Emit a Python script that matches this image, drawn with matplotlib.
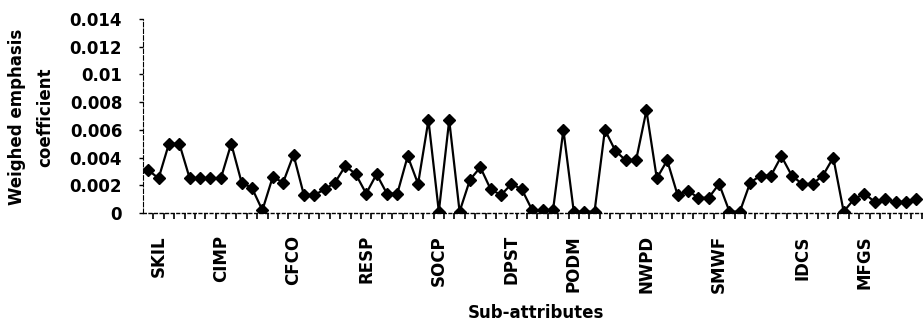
import matplotlib
matplotlib.use("Agg")
import matplotlib.pyplot as plt
from matplotlib.ticker import FixedLocator, FixedFormatter

# Weighed emphasis coefficient of each sub-attribute, in order
coefficients = [
    0.0031, 0.0025, 0.0050, 0.0050, 0.0025, 0.0025, 0.0025, 0.0025, 0.0050, 0.0022,
    0.0018, 0.0002, 0.0026, 0.0022, 0.0042, 0.0013, 0.0013, 0.0017, 0.0022, 0.0034,
    0.0028, 0.0014, 0.0028, 0.0014, 0.0014, 0.0041, 0.0021, 0.0067, 0.0001, 0.0067,
    0.0001, 0.0024, 0.0033, 0.0017, 0.0013, 0.0021, 0.0017, 0.0002, 0.0002, 0.0002,
    0.0060, 0.0001, 0.0001, 0.0001, 0.0060, 0.0045, 0.0038, 0.0038, 0.0074, 0.0025,
    0.0038, 0.0013, 0.0016, 0.0011, 0.0011, 0.0021, 0.0001, 0.0001, 0.0022, 0.0027,
    0.0027, 0.0041, 0.0027, 0.0021, 0.0021, 0.0027, 0.0040, 0.0001, 0.0010, 0.0014,
    0.0008, 0.0010, 0.0008, 0.0008, 0.0010,
]

# Attribute group names and the sub-attribute index where each is labelled
group_names = ["SKIL", "CIMP", "CFCO", "RESP", "SOCP", "DPST",
               "PODM", "NWPD", "SMWF", "IDCS", "MFGS"]
group_label_index = [1, 7, 14, 21, 28, 35, 41, 48, 55, 63, 69]

y_ticks = [0, 0.002, 0.004, 0.006, 0.008, 0.01, 0.012, 0.014]
y_tick_labels = ["0", "0.002", "0.004", "0.006", "0.008", "0.01", "0.012", "0.014"]

n = len(coefficients)
x = list(range(n))

plt.rcParams["font.family"] = ["DejaVu Sans"]

fig = plt.figure(figsize=(9.23, 3.29), dpi=100)
ax = fig.add_axes([143 / 923, 1 - 213 / 329, 778.5 / 923, 194 / 329])

ax.plot(x, coefficients, color="black", linewidth=1.6,
        marker="D", markersize=6, markerfacecolor="black",
        markeredgecolor="black")

ax.set_xlim(-0.5, n - 0.5)
ax.set_ylim(0, 0.014)

# y axis
ax.yaxis.set_major_locator(FixedLocator(y_ticks))
ax.yaxis.set_major_formatter(FixedFormatter(y_tick_labels))
ax.tick_params(axis="y", direction="out", length=3, width=1, pad=12,
               labelsize=12)
for lbl in ax.get_yticklabels():
    lbl.set_fontweight("bold")

# x axis: group labels at their indices, ticks at category boundaries
ax.xaxis.set_major_locator(FixedLocator(group_label_index))
ax.xaxis.set_major_formatter(FixedFormatter(group_names))
ax.tick_params(axis="x", which="major", length=0, pad=16, labelsize=12,
               labelrotation=90)
for lbl in ax.get_xticklabels():
    lbl.set_fontweight("bold")
    lbl.set_va("top")
ax.set_xticks([i - 0.5 for i in range(1, n + 1)], minor=True)
ax.tick_params(axis="x", which="minor", direction="out", length=4, width=1.2,
               color="black")

for side in ("top", "right"):
    ax.spines[side].set_visible(False)
ax.spines["left"].set_linewidth(0.8)
ax.spines["left"].set_linestyle((0, (4, 2)))
ax.spines["bottom"].set_linewidth(1.0)
ax.spines["bottom"].set_linestyle((0, (2, 2)))

fig.text(31 / 923, 1 - 117 / 329, "Weighed emphasis\ncoefficient",
         rotation=90, ha="center", va="center", multialignment="center",
         fontsize=12, fontweight="bold", linespacing=1.7)
fig.text(536 / 923, 1 - 313 / 329, "Sub-attributes",
         ha="center", va="center", fontsize=12, fontweight="bold")

fig.savefig("out.png", dpi=100, facecolor="white")
